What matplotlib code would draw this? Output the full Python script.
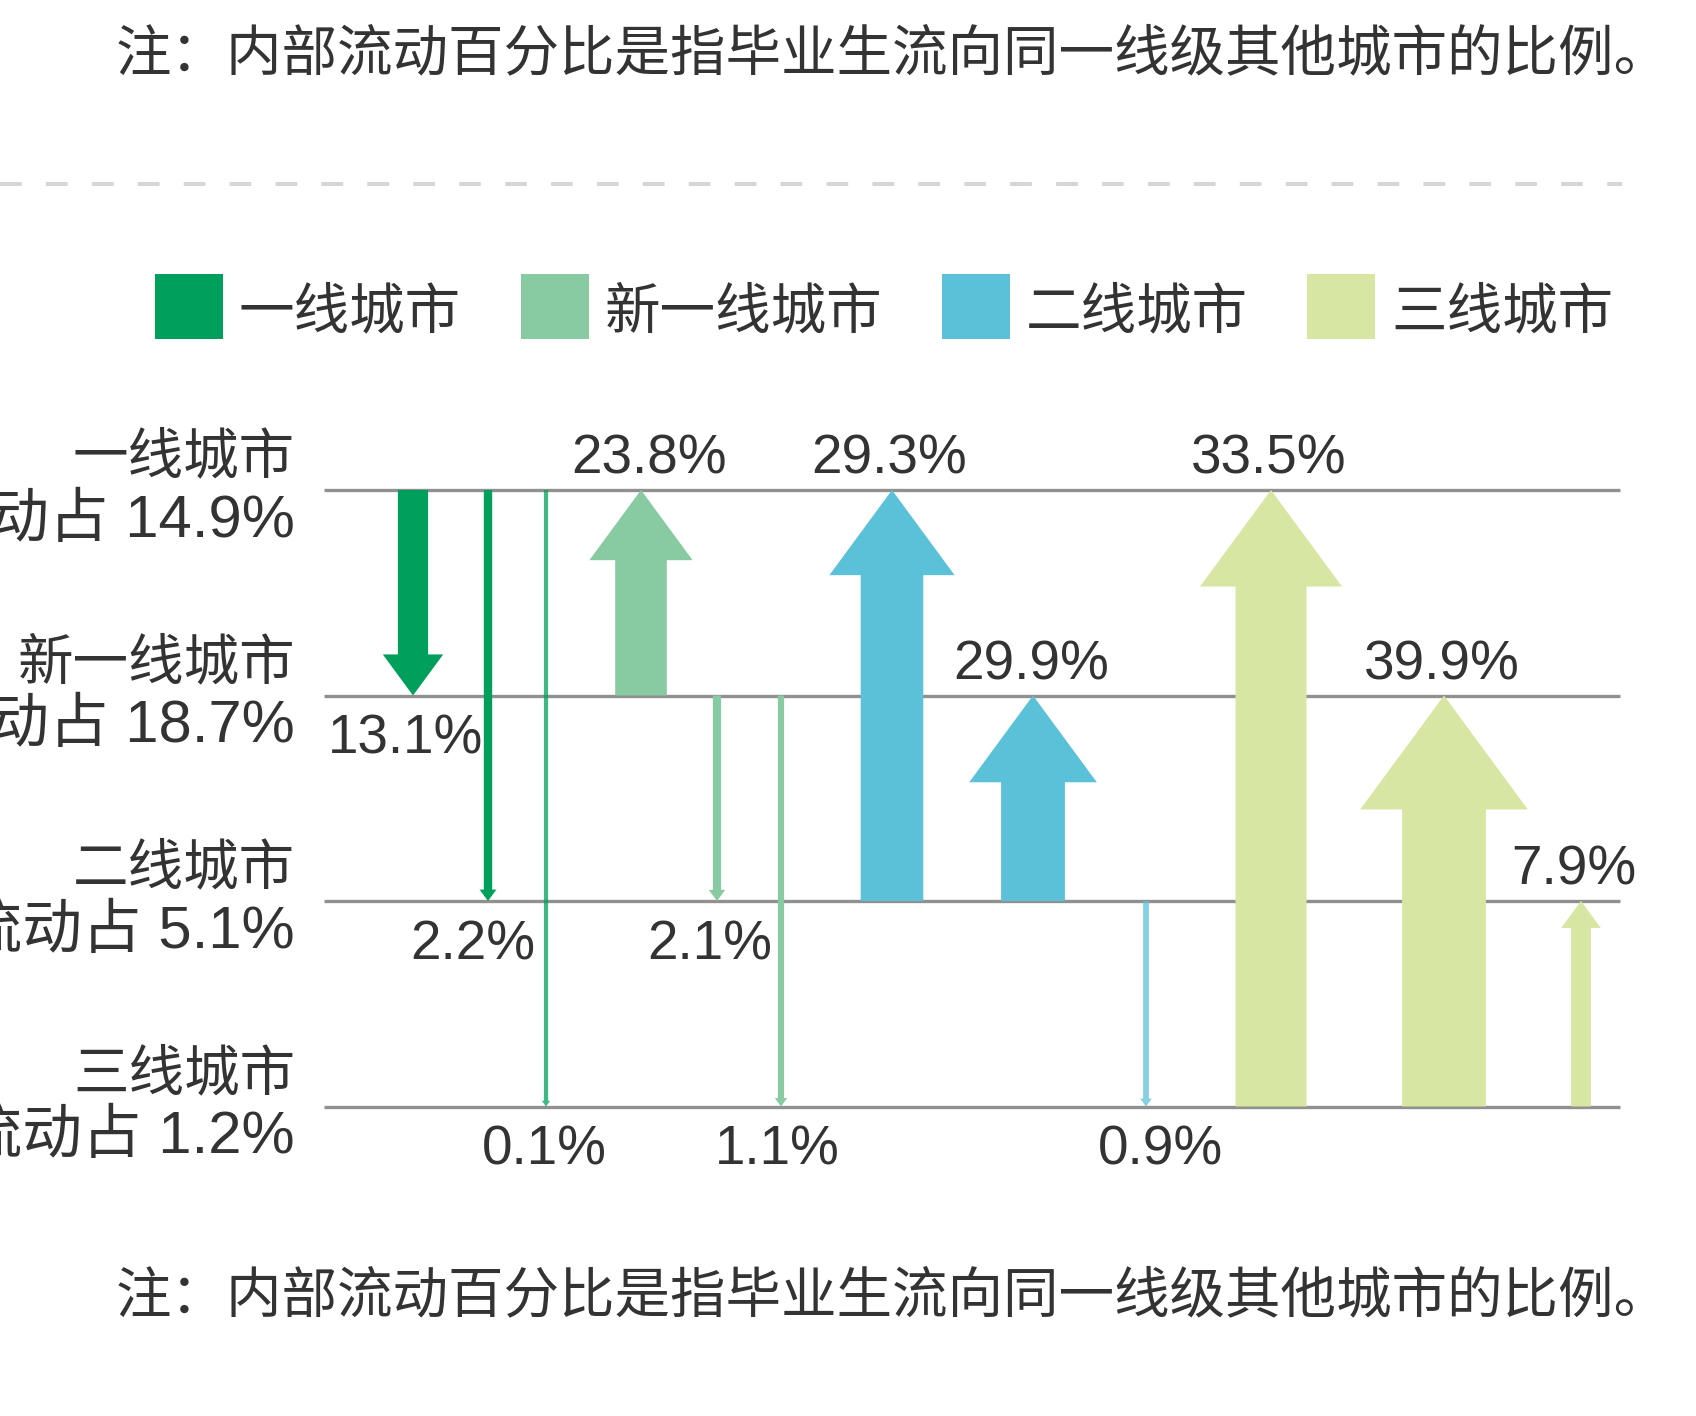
import numpy as np
import matplotlib
matplotlib.use("Agg")
import matplotlib.pyplot as plt
from matplotlib.patches import Rectangle

plt.rcParams['font.family'] = ['Noto Sans CJK SC', 'DejaVu Sans']

# --- données ---
tiers = ['一线城市', '新一线城市', '二线城市', '三线城市']
internal = [14.9, 18.7, 5.1, 1.2]
note = '注：内部流动百分比是指毕业生流向同一线级其他城市的比例。'

flow_src = [0, 0, 0, 1, 1, 1, 2, 2, 2, 3, 3, 3]
flow_dst = [1, 2, 3, 0, 2, 3, 0, 1, 3, 0, 1, 2]
flow_val = [13.1, 2.2, 0.1, 23.8, 2.1, 1.1, 29.3, 29.9, 0.9, 33.5, 39.9, 7.9]

colors = ['#00A05C', '#88CAA1', '#5BC1D9', '#D7E6A2']

# --- mise en page (pixels) ---
W, H = 1696, 1416
tier_y0, tier_gap = 490, 205.5
line_x0, line_x1 = 324, 1620
slot_x = [413, 488, 546, 641, 717, 781, 892, 1033, 1146, 1271, 1444, 1581]
label_dx = [-7, -15, -2, 8, -7, -4, -3, -2, 15, -2, -2, -7]
num_font = ['Liberation Sans', 'Noto Sans CJK SC']

fig = plt.figure(figsize=(W / 100, H / 100), dpi=100)
ax = fig.add_axes([0, 0, 1, 1])
ax.set_xlim(0, W)
ax.set_ylim(H, 0)
ax.axis('off')

def ty(i):
    return tier_y0 + i * tier_gap

# notes haut / bas
for yy in (55, 1297):
    ax.text(116, yy, note, fontsize=40, color='#333333', ha='left', va='center')

# ligne pointillée
ax.hlines(184, 0, 1622, colors='#d6d6d6', lw=2.9, linestyles=(0, (5.4, 6.0)))

# légende
leg_x = [155, 521, 942, 1307]
for k, name in enumerate(tiers):
    ax.add_patch(Rectangle((leg_x[k], 274), 68, 65, facecolor=colors[k], edgecolor='none'))
    ax.text(leg_x[k] + 84, 313, name, fontsize=40, color='#333333', ha='left', va='center')

# lignes des niveaux + étiquettes
for i, name in enumerate(tiers):
    y = ty(i)
    ax.hlines(y, line_x0, line_x1, colors='#909090', lw=2.4, zorder=1)
    ax.text(295, y - 32, name, fontsize=40, color='#333333', ha='right', va='center')
    ax.text(295, y + 31, '内部流动占 ' + str(internal[i]) + '%', fontsize=43,
            color='#333333', ha='right', va='center', family=num_font)

# flèches
for k in range(len(flow_val)):
    v = flow_val[k]
    x = slot_x[k]
    ys, yd = ty(flow_src[k]), ty(flow_dst[k])
    sgn = np.sign(yd - ys)
    w = 4 + 2 * v
    hw = 2 * w
    hl = 1.36 * w
    yb = yd - sgn * hl
    px = [x - w / 2, x - w / 2, x - hw / 2, x, x + hw / 2, x + w / 2, x + w / 2]
    py = [ys, yb, yb, yd, yb, yb, ys]
    ax.fill(px, py, color=colors[flow_src[k]], lw=0, zorder=2,
            alpha=0.75 if v < 1 else 1)
    lbl_y = yd - 30.5 if sgn < 0 else yd + 44
    ax.text(x + label_dx[k], lbl_y, str(v) + '%', fontsize=39.5, color='#333333',
            ha='center', va='center', family=num_font, zorder=3)

fig.savefig('out.png', dpi=100)
